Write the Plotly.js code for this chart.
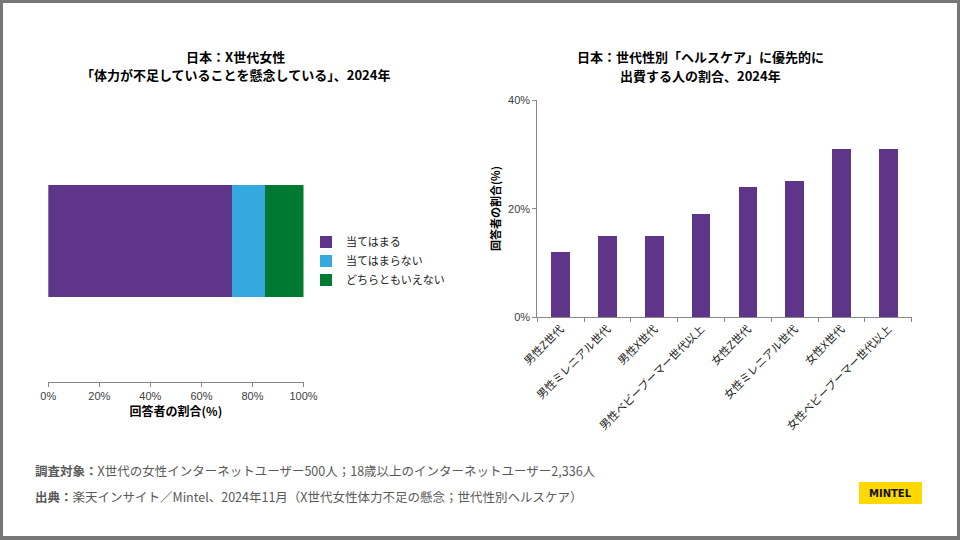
<!DOCTYPE html>
<html>
<head>
<meta charset="utf-8">
<script src="https://cdn.plot.ly/plotly-3.0.1.min.js"></script>
<style>
  body { margin: 0; padding: 0; background: #fff; }
  #wrap { position: relative; width: 960px; height: 540px; }
  #chart { width: 960px; height: 540px; }
  #frame { position: absolute; left: 0; top: 0; width: 960px; height: 540px;
           box-sizing: border-box; border: 3px solid #777; border-bottom-width: 4px;
           pointer-events: none; }
</style>
</head>
<body>
<div id="wrap">
  <div id="chart"></div>
  <div id="frame"></div>
</div>
<script>
// left chart: X世代女性
var concernCat = ["X世代女性"];
var concernNames = ["当てはまる", "当てはまらない", "どちらともいえない"];
var concernVals = [72, 13, 15];
var concernColors = ["#5E3589", "#35A8E0", "#007A33"];
var concernTicks = [0, 20, 40, 60, 80, 100];

// right chart: ヘルスケア spending
var groups = ["男性Z世代", "男性ミレニアル世代", "男性X世代", "男性ベビーブーマー世代以上",
              "女性Z世代", "女性ミレニアル世代", "女性X世代", "女性ベビーブーマー世代以上"];
var health = [12, 15, 15, 19, 24, 25, 31, 31];
var healthTicks = [0, 20, 40];

var FONT = "Noto Sans CJK JP, Noto Sans, sans-serif";
var NUMFONT = "Liberation Sans, Arial, sans-serif";
var W = 960, H = 540;
function px(x) { return x / W; }
function py(y) { return 1 - y / H; }
function pct(v) { return v + "%"; }

var data = [];
for (var i = 0; i < concernNames.length; i++) {
    data.push({
        type: "bar",
        orientation: "h",
        y: concernCat,
        x: [concernVals[i]],
        name: concernNames[i],
        marker: {color: concernColors[i]},
        xaxis: "x",
        yaxis: "y",
        hoverinfo: "name+x"
    });
}
data.push({
    type: "bar",
    x: groups,
    y: health,
    name: "割合",
    marker: {color: "#5E3589"},
    xaxis: "x2",
    yaxis: "y2",
    showlegend: false
});

// one annotation per text line
function line(txt, x, y, size, color, anchor) {
    return {xref: "paper", yref: "paper", x: px(x), y: py(y),
            xanchor: anchor || "center", yanchor: "middle",
            showarrow: false, text: txt,
            font: {family: FONT, size: size, color: color}};
}

var layout = {
    width: W,
    height: H,
    margin: {l: 0, r: 0, t: 0, b: 0},
    paper_bgcolor: "#fff",
    plot_bgcolor: "#fff",
    font: {family: FONT, size: 11, color: "#404040"},
    barmode: "stack",
    bargap: 0.6,
    showlegend: true,
    legend: {
        x: px(306), y: py(261), xanchor: "left", yanchor: "middle",
        traceorder: "normal",
        font: {family: FONT, size: 11, color: "#222"},
        itemwidth: 30,
        tracegroupgap: 0,
        bgcolor: "rgba(0,0,0,0)"
    },
    xaxis: {
        domain: [px(48.3), px(303.5)],
        range: [0, 100],
        tickvals: concernTicks,
        ticktext: concernTicks.map(pct),
        showgrid: false,
        zeroline: false,
        showline: true,
        linecolor: "#888",
        ticks: "outside",
        ticklen: 4,
        tickcolor: "#888",
        tickfont: {family: NUMFONT, size: 11, color: "#404040"},
        title: {text: "<b>回答者の割合(%)</b>", standoff: 6,
                font: {family: FONT, size: 12, color: "#000"}},
        anchor: "y",
        fixedrange: true
    },
    yaxis: {
        domain: [py(381.7), py(100)],
        range: [-0.5, 0.5],
        showticklabels: false,
        showline: false,
        showgrid: false,
        zeroline: false,
        ticks: "",
        anchor: "x",
        fixedrange: true
    },
    xaxis2: {
        domain: [px(537.3), px(911.7)],
        type: "category",
        showgrid: false,
        showline: true,
        linecolor: "#888",
        ticks: "outside",
        tickson: "boundaries",
        ticklen: 4,
        tickcolor: "#888",
        tickangle: -45,
        tickfont: {family: FONT, size: 11, color: "#222"},
        anchor: "y2",
        fixedrange: true
    },
    yaxis2: {
        domain: [py(317.3), py(100)],
        range: [0, 40],
        tickvals: healthTicks,
        ticktext: healthTicks.map(pct),
        showgrid: false,
        zeroline: false,
        showline: true,
        linecolor: "#888",
        ticks: "outside",
        ticklen: 4,
        tickcolor: "#888",
        tickfont: {family: NUMFONT, size: 11, color: "#404040"},
        title: {text: "<b>回答者の割合(%)</b>", standoff: 5,
                font: {family: FONT, size: 11, color: "#000"}},
        anchor: "x2",
        fixedrange: true
    },
    annotations: [
        line("<b>日本：X世代女性</b>", 235, 57, 13, "#000"),
        line("<b>「体力が不足していることを懸念している」、2024年</b>", 235, 75, 13, "#000"),
        line("<b>日本：世代性別「ヘルスケア」に優先的に</b>", 700, 57, 13, "#000"),
        line("<b>出費する人の割合、2024年</b>", 700, 76, 13, "#000"),
        line("<b>調査対象：</b>X世代の女性インターネットユーザー500人；18歳以上のインターネットユーザー2,336人",
             33, 470, 12.5, "#595959", "left"),
        line("<b>出典：</b>楽天インサイト／Mintel、2024年11月（X世代女性体力不足の懸念；世代性別ヘルスケア）",
             33, 496, 12.5, "#595959", "left"),
        {xref: "paper", yref: "paper", x: px(890.5), y: py(493.5), xanchor: "center", yanchor: "middle",
         showarrow: false, text: "<b>MINTEL</b>",
         font: {family: "DejaVu Sans, sans-serif", size: 10, color: "#111"}}
    ],
    shapes: [
        {type: "rect", xref: "paper", yref: "paper",
         x0: px(859), x1: px(922), y0: py(504), y1: py(482),
         fillcolor: "#FFD800", line: {width: 0}, layer: "below"}
    ]
};

Plotly.newPlot("chart", data, layout, {displayModeBar: false, staticPlot: true});
</script>
</body>
</html>
